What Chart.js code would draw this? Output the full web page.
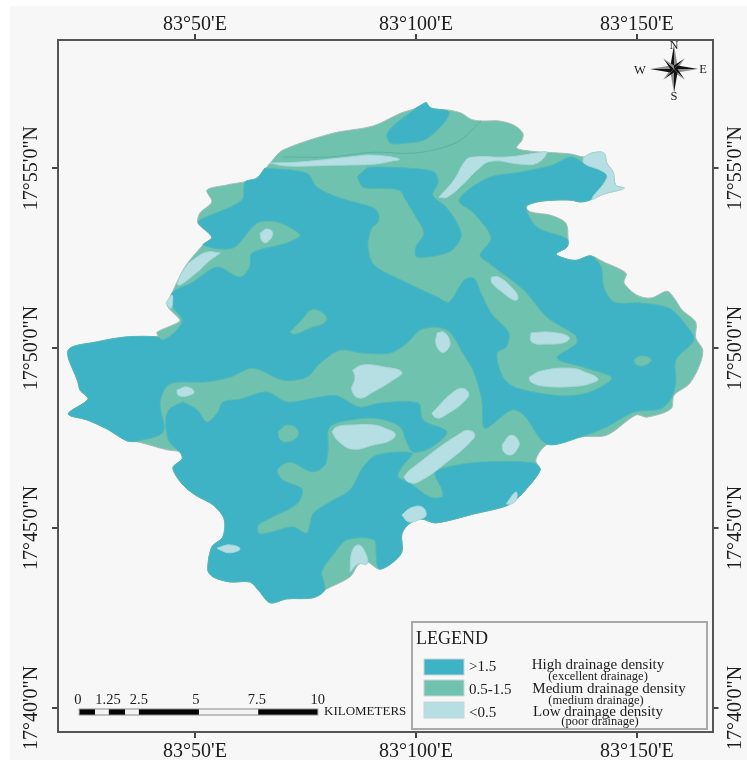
<!DOCTYPE html>
<html>
<head>
<meta charset="utf-8">
<title>Drainage density map</title>
<script src="https://cdn.jsdelivr.net/npm/chart.js@4/dist/chart.umd.js"></script>
<style>
    html, body { margin: 0; padding: 0; background: #fff; }
    canvas { display: block; }
</style>
</head>
<body>
<canvas id="mapChart" width="747" height="764"></canvas>
<script>
// all polygons are [longitude minutes past 83 deg, latitude minutes past 17 deg]
const lonTicks = [5, 10, 15];
const lonLabels = ["83°50'E", "83°100'E", "83°150'E"];
const latTicks = [40, 45, 50, 55];
const latLabels = ['17°40\'0"N', '17°45\'0"N', '17°50\'0"N', '17°55\'0"N'];

const outline = [[10.23,56.83],[10.34,56.67],[10.75,56.61],[11.02,56.53],[11.24,56.36],[11.47,56.31],[11.88,56.31],[12.22,56.19],[12.42,55.97],[12.40,55.78],[12.28,55.56],[12.60,55.47],[12.96,55.44],[13.51,55.39],[13.80,55.31],[13.98,55.42],[14.25,55.42],[14.32,55.14],[14.46,54.89],[14.52,54.53],[14.71,54.44],[14.25,54.28],[13.98,54.14],[13.73,54.06],[13.51,54.11],[13.12,54.11],[12.74,54.06],[12.49,53.92],[12.60,53.78],[13.05,53.69],[13.39,53.47],[13.44,53.06],[13.42,52.81],[13.17,52.61],[13.42,52.47],[13.64,52.44],[13.96,52.56],[14.25,52.39],[14.75,52.08],[14.71,51.81],[15.00,51.47],[15.32,51.39],[15.68,51.58],[15.84,51.39],[16.02,51.06],[16.33,50.72],[16.33,50.28],[16.49,49.94],[16.40,49.47],[16.18,49.00],[15.84,48.69],[15.77,48.31],[15.23,48.08],[14.98,48.14],[14.32,47.58],[13.73,47.53],[12.96,47.31],[12.71,46.89],[12.81,46.61],[12.44,46.00],[12.28,45.81],[12.04,45.61],[11.31,45.39],[10.45,45.14],[10.11,45.25],[9.84,45.11],[9.68,44.83],[9.68,44.33],[9.43,44.00],[9.16,43.86],[8.89,44.06],[8.69,43.97],[8.51,43.64],[7.94,43.28],[7.67,43.06],[7.08,43.03],[6.70,42.92],[6.43,43.28],[6.24,43.50],[5.79,43.50],[5.41,43.64],[5.29,43.83],[5.38,44.47],[5.63,44.75],[5.66,45.25],[5.41,45.64],[5.00,45.92],[4.71,46.22],[4.50,46.67],[4.71,46.92],[4.66,47.11],[4.37,47.17],[3.71,47.39],[3.46,47.42],[3.01,47.75],[2.56,48.00],[2.13,48.17],[2.58,48.58],[2.40,48.83],[2.35,49.06],[2.13,49.94],[2.78,50.17],[3.46,50.31],[4.16,50.31],[4.14,50.44],[4.59,50.69],[4.66,50.78],[4.37,51.19],[4.48,51.53],[4.77,52.25],[5.18,52.86],[5.38,53.08],[5.07,53.47],[5.11,53.75],[5.38,54.06],[5.27,54.39],[5.72,54.53],[6.40,54.72],[6.70,55.14],[6.99,55.50],[8.12,55.97],[9.03,56.17],[9.66,56.53],[10.02,56.67]];

const highZones = [
    // main body, west lobe through to the east side
    [[6.58,55.00],[7.53,54.86],[7.76,54.47],[8.28,54.17],[9.05,53.89],[9.16,53.69],[9.14,53.50],[9.00,53.33],[8.91,52.86],[9.05,52.31],[9.80,51.81],[10.48,51.42],[10.75,51.28],[11.09,51.89],[11.31,51.94],[11.47,51.53],[11.70,50.97],[12.10,50.42],[12.04,50.03],[11.83,49.86],[11.97,49.19],[12.28,48.89],[13.33,48.67],[13.94,48.78],[14.43,49.17],[13.78,49.47],[13.19,49.72],[13.64,50.14],[13.60,50.36],[12.96,50.86],[12.44,51.61],[11.65,52.36],[11.45,52.58],[11.70,53.06],[11.31,53.75],[10.97,54.11],[11.61,54.72],[12.38,54.89],[13.08,55.08],[13.51,55.31],[13.80,55.14],[14.25,54.89],[14.32,54.72],[13.98,54.14],[13.73,54.06],[13.51,54.11],[13.12,54.11],[12.74,54.06],[12.49,53.92],[12.74,53.36],[13.42,53.03],[13.42,52.81],[13.17,52.61],[13.42,52.47],[13.64,52.44],[13.96,52.56],[14.19,52.25],[14.25,51.69],[14.48,51.28],[15.09,51.25],[15.72,51.11],[16.11,50.64],[16.29,50.22],[15.88,49.67],[15.88,49.06],[15.79,48.64],[15.54,48.31],[14.93,48.22],[14.32,47.81],[13.73,47.53],[12.96,47.33],[12.44,48.14],[12.17,48.28],[11.61,47.78],[11.52,47.81],[11.49,48.56],[11.29,49.39],[11.06,49.86],[10.77,50.44],[10.48,50.58],[10.09,50.50],[9.80,50.14],[9.41,49.86],[8.80,49.86],[8.28,49.94],[7.83,49.58],[7.53,49.19],[6.99,49.11],[6.31,49.44],[5.79,49.19],[5.27,49.06],[4.43,49.00],[4.21,48.50],[4.28,47.67],[3.71,47.42],[3.46,47.42],[3.01,47.75],[2.56,48.00],[2.13,48.17],[2.58,48.58],[2.40,48.83],[2.35,49.06],[2.13,49.94],[2.78,50.17],[3.46,50.31],[4.16,50.31],[4.28,50.22],[4.59,50.50],[4.71,50.78],[4.50,51.14],[4.48,51.53],[4.95,51.83],[5.50,52.25],[6.02,51.97],[6.24,52.25],[6.29,52.64],[7.08,52.92],[7.38,53.14],[6.86,53.50],[6.40,53.47],[5.86,52.78],[5.18,52.86],[5.38,53.08],[5.07,53.47],[5.11,53.56],[6.06,54.11],[6.13,54.61],[6.40,54.72]],
    // upper middle tongue
    [[8.67,54.75],[8.89,55.00],[9.05,55.03],[9.80,55.00],[10.41,54.89],[10.50,54.61],[10.38,54.25],[10.68,53.92],[10.93,53.47],[11.02,53.08],[10.75,52.67],[10.02,52.53],[10.00,52.81],[10.18,53.19],[10.00,53.64],[9.77,54.11],[9.62,54.39],[9.05,54.44],[8.80,54.47]],
    // north tip
    [[10.23,56.83],[10.34,56.67],[10.75,56.56],[10.59,56.19],[10.18,55.78],[9.73,55.69],[9.43,55.69],[9.34,55.92],[9.50,56.19],[9.89,56.56],[10.00,56.67]],
    // south body
    [[4.73,48.50],[5.05,48.28],[5.27,47.94],[5.52,48.22],[5.63,48.50],[6.02,48.58],[6.63,48.78],[7.08,48.50],[7.83,48.64],[8.21,48.67],[8.73,48.36],[9.19,48.47],[10.05,48.47],[10.16,48.00],[10.70,47.67],[10.32,47.22],[9.93,47.11],[9.80,47.36],[9.64,47.81],[9.19,48.03],[8.67,48.03],[8.05,47.81],[8.01,47.17],[7.94,46.75],[7.65,46.56],[7.15,46.83],[6.86,46.61],[6.99,46.33],[7.42,46.08],[7.31,45.67],[6.43,45.08],[6.47,44.83],[7.22,45.03],[7.53,44.86],[7.67,45.39],[8.05,45.72],[8.51,46.06],[8.80,46.69],[9.12,47.03],[9.91,47.08],[9.68,46.69],[9.59,46.42],[9.86,46.25],[10.32,45.86],[10.59,45.86],[10.59,46.06],[10.43,46.53],[10.70,46.69],[11.45,46.83],[12.65,46.81],[12.81,46.61],[12.44,46.00],[12.28,45.81],[12.04,45.61],[11.31,45.39],[10.45,45.14],[10.11,45.25],[9.84,45.11],[9.68,44.83],[9.68,44.33],[9.43,44.00],[9.16,43.86],[9.10,44.25],[9.05,44.67],[8.44,44.67],[8.12,44.25],[7.87,43.78],[7.94,43.28],[7.67,43.06],[7.08,43.03],[6.70,42.92],[6.43,43.28],[6.24,43.50],[5.79,43.50],[5.41,43.64],[5.29,43.83],[5.38,44.47],[5.63,44.75],[5.66,45.25],[5.41,45.64],[5.00,45.92],[4.71,46.22],[4.50,46.67],[4.71,46.92],[4.66,47.11],[4.59,47.17],[4.39,47.47],[4.34,48.03],[4.43,48.31]]
];

const mediumIslands = [
    [[14.93,49.67],[15.09,49.78],[15.32,49.69],[15.20,49.53],[15.00,49.53]],
    [[7.15,50.44],[7.42,50.78],[7.65,51.06],[7.94,50.92],[7.94,50.72],[7.60,50.56],[7.26,50.39]],
    [[6.88,47.67],[7.08,47.86],[7.31,47.75],[7.31,47.53],[7.08,47.39],[6.92,47.47]]
];

const lowPatches = [
    [[13.80,55.31],[13.98,55.42],[14.25,55.42],[14.32,55.14],[14.46,54.89],[14.52,54.53],[14.71,54.44],[14.25,54.28],[13.98,54.14],[14.32,54.72],[14.25,54.89],[13.80,55.14]],
    [[6.70,55.14],[7.38,55.17],[8.51,55.31],[9.03,55.36],[9.62,55.25],[9.34,55.17],[9.05,55.11],[8.12,55.08],[7.08,55.06]],
    [[10.52,54.19],[10.86,54.67],[11.13,55.22],[11.31,55.31],[12.06,55.31],[12.74,55.42],[12.96,55.44],[12.74,55.14],[12.38,55.11],[11.70,55.19],[11.38,54.94],[11.09,54.58],[10.70,54.19]],
    [[6.47,53.19],[6.63,53.31],[6.76,53.19],[6.63,52.94],[6.52,52.97]],
    [[5.57,52.64],[5.29,52.67],[5.05,52.53],[4.77,52.22],[4.62,51.75],[5.05,52.11],[5.29,52.39]],
    [[4.34,51.25],[4.48,51.47],[4.46,51.11]],
    [[11.70,51.97],[11.88,51.97],[12.22,51.61],[12.31,51.39],[12.22,51.33],[11.95,51.56],[11.72,51.81]],
    [[10.48,50.42],[10.63,50.44],[10.77,50.17],[10.70,49.94],[10.57,49.89],[10.45,50.14]],
    [[12.60,50.42],[13.05,50.44],[13.46,50.31],[13.39,50.17],[12.96,50.11],[12.62,50.17]],
    [[12.56,49.19],[12.83,49.36],[13.51,49.44],[13.87,49.31],[14.12,49.14],[13.98,49.03],[13.64,48.94],[12.90,48.94],[12.60,49.06]],
    [[4.59,48.83],[4.82,48.92],[4.98,48.78],[4.82,48.67],[4.62,48.69]],
    [[8.57,49.39],[8.80,49.53],[9.30,49.47],[9.68,49.33],[9.48,49.11],[9.03,48.78],[8.73,48.61],[8.55,48.83],[8.62,49.17]],
    [[8.10,47.67],[8.21,47.81],[8.57,47.86],[9.05,47.86],[9.34,47.75],[9.53,47.61],[9.43,47.44],[9.05,47.31],[8.57,47.19],[8.24,47.42]],
    [[10.36,48.19],[10.88,48.81],[11.11,48.86],[11.18,48.64],[10.59,48.08],[10.43,48.08]],
    [[9.73,46.42],[9.86,46.61],[11.06,47.67],[11.29,47.67],[11.31,47.50],[10.70,46.83],[10.05,46.28],[9.82,46.28]],
    [[11.95,47.31],[12.15,47.58],[12.33,47.39],[12.28,47.17],[12.15,47.03],[11.99,47.11]],
    [[9.68,45.36],[9.89,45.56],[10.14,45.58],[10.23,45.36],[10.11,45.25],[9.84,45.17]],
    [[12.04,45.67],[12.26,46.00],[12.28,45.81],[12.17,45.67]],
    [[5.50,44.44],[5.79,44.53],[6.02,44.42],[5.79,44.31],[5.57,44.39]],
    [[8.51,43.78],[8.55,44.33],[8.69,44.53],[8.85,44.33],[8.89,44.00],[8.69,44.00]]
];

const contourLine = [[6.99,55.31],[8.05,55.31],[9.03,55.44],[10.02,55.42],[10.93,55.72],[11.47,56.31]];

const legendClasses = ['>1.5', '0.5-1.5', '<0.5'];
const legendNames = ['High drainage density', 'Medium drainage density', 'Low drainage density'];
const legendNotes = ['(excellent drainage)', '(medium drainage)', '(poor drainage)'];
const scaleLabels = ['0', '1.25', '2.5', '5', '7.5', '10'];
const scaleLabelLons = [2.35, 3.03, 3.73, 5.02, 6.40, 7.78];
const scaleStops = [2.38, 2.74, 3.05, 3.42, 3.73, 5.09, 6.43, 7.78];

const HIGH = '#3eb3c6';
const MEDIUM = '#6fc2ae';
const LOW = '#b5dfe3';
const PAPER = '#f7f7f7';
const INK = '#1c1c1c';
const SERIF = '"Liberation Serif", serif';

function zone(points, color, edge, tension) {
    const pts = points.concat([points[0]]).map(p => ({ x: p[0], y: p[1] }));
    return {
        data: pts,
        showLine: true,
        fill: 'shape',
        backgroundColor: color,
        borderColor: edge,
        borderWidth: 1,
        tension: tension,
        pointRadius: 0
    };
}

// first dataset ends up on top
const datasets = [];
lowPatches.forEach(p => datasets.push(zone(p, LOW, '#a9d6da', 0.45)));
mediumIslands.forEach(p => datasets.push(zone(p, MEDIUM, '#62bcab', 0.45)));
highZones.forEach(p => datasets.push(zone(p, HIGH, '#52b8b6', 0.3)));
datasets.push({
    data: contourLine.map(p => ({ x: p[0], y: p[1] })),
    showLine: true,
    fill: false,
    borderColor: '#58b3a0',
    borderWidth: 1,
    tension: 0.3,
    pointRadius: 0
});
datasets.push(zone(outline, MEDIUM, '#a8bdb8', 0.3));

// paper behind everything
const paperPlugin = {
    id: 'paper',
    beforeDraw(chart) {
        const ctx = chart.ctx;
        ctx.save();
        ctx.fillStyle = '#ffffff';
        ctx.fillRect(0, 0, chart.width, chart.height);
        ctx.fillStyle = PAPER;
        ctx.fillRect(10, 6, chart.width - 10, chart.height - 10);
        ctx.restore();
    }
};

// rotated latitude labels, both sides read bottom to top
const latLabelPlugin = {
    id: 'latLabels',
    afterDraw(chart) {
        const ctx = chart.ctx;
        const y = chart.scales.y;
        ctx.save();
        ctx.font = '20px ' + SERIF;
        ctx.fillStyle = INK;
        ctx.textAlign = 'center';
        ctx.textBaseline = 'middle';
        latTicks.forEach((v, i) => {
            [32, 736].forEach(px => {
                ctx.save();
                ctx.translate(px, y.getPixelForValue(v));
                ctx.rotate(-Math.PI / 2);
                ctx.fillText(latLabels[i], 0, 0);
                ctx.restore();
            });
        });
        ctx.restore();
    }
};

const legendPlugin = {
    id: 'mapLegend',
    afterDraw(chart) {
        const ctx = chart.ctx;
        ctx.save();
        ctx.fillStyle = PAPER;
        ctx.strokeStyle = '#a9a9a9';
        ctx.lineWidth = 2;
        ctx.fillRect(412, 622, 295, 107);
        ctx.strokeRect(412, 622, 295, 107);

        ctx.fillStyle = INK;
        ctx.textBaseline = 'middle';
        ctx.textAlign = 'left';
        ctx.font = '18px ' + SERIF;
        ctx.fillText('LEGEND', 416, 639);

        const swatchY = [659, 680, 702];
        const classY = [667, 690, 713];
        const nameX = [598, 609, 598];
        const nameY = [665, 689, 712];
        const noteX = [598, 596, 600];
        const noteY = [677, 701, 722];
        const colors = [HIGH, MEDIUM, LOW];
        legendClasses.forEach((c, i) => {
            ctx.fillStyle = colors[i];
            ctx.fillRect(424, swatchY[i], 40, 16);
            ctx.strokeStyle = '#c9d4d4';
            ctx.lineWidth = 1;
            ctx.strokeRect(424, swatchY[i], 40, 16);
            ctx.fillStyle = INK;
            ctx.textAlign = 'left';
            ctx.font = '15px ' + SERIF;
            ctx.fillText(c, 469, classY[i]);
            ctx.textAlign = 'center';
            ctx.fillText(legendNames[i], nameX[i], nameY[i]);
            ctx.font = '12.5px ' + SERIF;
            ctx.fillText(legendNotes[i], noteX[i], noteY[i]);
        });
        ctx.restore();
    }
};

const scaleBarPlugin = {
    id: 'scaleBar',
    afterDraw(chart) {
        const ctx = chart.ctx;
        const x = chart.scales.x;
        ctx.save();
        for (let i = 0; i < scaleStops.length - 1; i++) {
            const a = x.getPixelForValue(scaleStops[i]);
            const b = x.getPixelForValue(scaleStops[i + 1]);
            ctx.fillStyle = i % 2 === 0 ? '#050505' : '#f4f4f4';
            ctx.fillRect(a, 709, b - a, 6);
        }
        ctx.strokeStyle = '#8a8a8a';
        ctx.lineWidth = 1;
        ctx.strokeRect(x.getPixelForValue(scaleStops[0]), 709, x.getPixelForValue(scaleStops[7]) - x.getPixelForValue(scaleStops[0]), 6);
        ctx.fillStyle = INK;
        ctx.textBaseline = 'middle';
        ctx.textAlign = 'center';
        ctx.font = '14.5px ' + SERIF;
        scaleLabels.forEach((t, i) => ctx.fillText(t, x.getPixelForValue(scaleLabelLons[i]), 700));
        ctx.textAlign = 'left';
        ctx.font = '13px ' + SERIF;
        ctx.fillText('KILOMETERS', 324, 712);
        ctx.restore();
    }
};

const compassPlugin = {
    id: 'compass',
    afterDraw(chart) {
        const ctx = chart.ctx;
        const cx = 674, cy = 69;
        ctx.save();
        ctx.translate(cx, cy);
        for (let i = 0; i < 8; i++) {
            const len = i % 2 === 0 ? 24 : 15;
            const w = i % 2 === 0 ? 3.5 : 2.5;
            ctx.save();
            ctx.rotate(i * Math.PI / 4);
            ctx.fillStyle = '#111111';
            ctx.beginPath();
            ctx.moveTo(0, 0);
            ctx.lineTo(0, -len);
            ctx.lineTo(-w, -w);
            ctx.closePath();
            ctx.fill();
            ctx.fillStyle = '#8f8f8f';
            ctx.beginPath();
            ctx.moveTo(0, 0);
            ctx.lineTo(0, -len);
            ctx.lineTo(w, -w);
            ctx.closePath();
            ctx.fill();
            ctx.restore();
        }
        ctx.restore();
        ctx.save();
        ctx.fillStyle = INK;
        ctx.font = '12.5px ' + SERIF;
        ctx.textAlign = 'center';
        ctx.textBaseline = 'middle';
        ctx.fillText('N', 674, 46);
        ctx.fillText('S', 674, 97);
        ctx.fillText('W', 640, 71);
        ctx.fillText('E', 703, 70);
        ctx.restore();
    }
};

function lonAxis(position, height, pad) {
    return {
        type: 'linear',
        position: position,
        min: 1.90,
        max: 16.71,
        afterBuildTicks: s => { s.ticks = lonTicks.map(v => ({ value: v })); },
        afterFit: s => { s.height = height; },
        border: { color: '#555555', width: 2 },
        grid: { drawOnChartArea: false, color: '#444444', lineWidth: 2, tickLength: 6 },
        ticks: {
            autoSkip: false,
            maxRotation: 0,
            padding: pad,
            color: INK,
            font: { family: SERIF, size: 20 },
            callback: v => lonLabels[lonTicks.indexOf(v)]
        }
    };
}

function latAxis(position, width) {
    return {
        type: 'linear',
        position: position,
        min: 39.33,
        max: 58.56,
        afterBuildTicks: s => { s.ticks = latTicks.map(v => ({ value: v })); },
        afterFit: s => { s.width = width; },
        border: { color: '#555555', width: 2 },
        grid: { drawOnChartArea: false, color: '#444444', lineWidth: 2, tickLength: 6 },
        ticks: { display: false }
    };
}

new Chart(document.getElementById('mapChart'), {
    type: 'scatter',
    data: { datasets: datasets },
    options: {
        responsive: false,
        animation: false,
        events: [],
        layout: { padding: 0 },
        plugins: { legend: { display: false }, tooltip: { enabled: false } },
        scales: {
            x: lonAxis('bottom', 32, 2),
            xTop: lonAxis('top', 40, -3),
            y: latAxis('left', 58),
            yRight: latAxis('right', 34.5)
        }
    },
    plugins: [paperPlugin, latLabelPlugin, scaleBarPlugin, legendPlugin, compassPlugin]
});
</script>
</body>
</html>
